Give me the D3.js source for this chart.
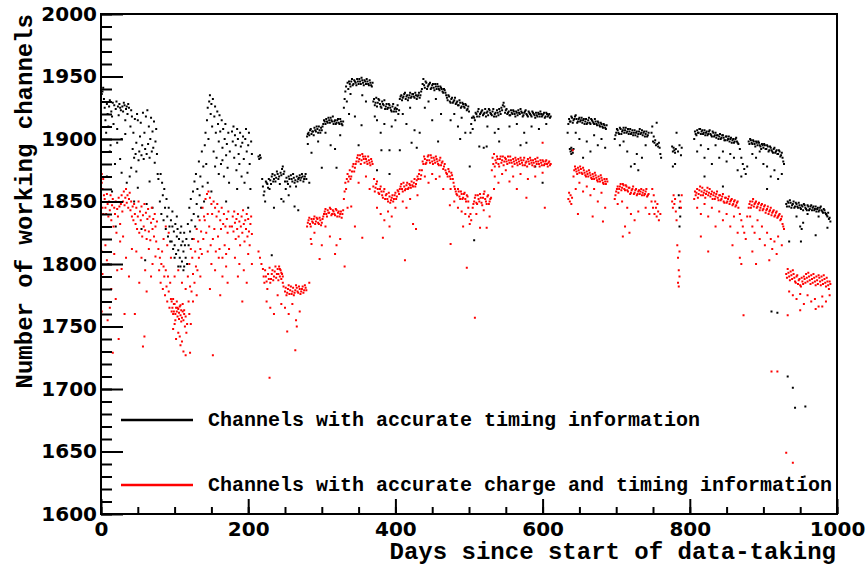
<!DOCTYPE html>
<html>
<head>
<meta charset="utf-8">
<script src="https://cdn.jsdelivr.net/npm/d3@7"></script>
<style>
  body { margin: 0; background: #fff; }
  svg { display: block; }
</style>
</head>
<body>
<svg id="chart"></svg>
<script>
const width = 868;
const height = 566;

// ticks and labels
const xMajor = [0, 200, 400, 600, 800, 1000];
const xMinor = d3.range(0, 1001, 50);
const yMajor = [1600, 1650, 1700, 1750, 1800, 1850, 1900, 1950, 2000];
const yMinor = d3.range(1600, 2001, 10);
const legendLabels = ['Channels with accurate timing information',
    'Channels with accurate charge and timing information'];
const seriesColors = ['#000000', '#ff0000'];

// [day, channels] channels with accurate timing information
const timingPts = [
[0,1940],[1,1936],[2,1938],[3,1941],[4,1932],[5,1925],[6,1915],[7,1905],[8,1928],[9,1920],[10,1910],[11,1926],[12,1931],[13,1895],[14,1922],[15,1918],[16,1929],[17,1912],[18,1927],[19,1880],[20,1924],[21,1930],[22,1908],[23,1926],[24,1919],[25,1928],[26,1925],[27,1923],[28,1900],[29,1926],[30,1922],[31,1929],[32,1927],[33,1915],[34,1924],[35,1926],[36,1920],[37,1928],[38,1925],[39,1870],[40,1910],[41,1923],[42,1918],[43,1892],[44,1905],[45,1885],[46,1916],[47,1888],[48,1897],[49,1920],[50,1915],[51,1883],[52,1890],[53,1902],[54,1913],[55,1887],[56,1895],[57,1921],[58,1884],[59,1905],[60,1892],[61,1918],[62,1888],[63,1923],[64,1896],[65,1910],[66,1885],[67,1900],[68,1917],[69,1890],[70,1906],[71,1893],[72,1914],[73,1881],[74,1898],[75,1908],[76,1888],[77,1872],
[8,1870],[15,1858],[28,1873],[35,1865],[50,1861],[62,1848],[66,1866],[45,1850],[60,1803],[55,1828],[70,1845],[12,1890],[22,1897],[33,1904],[41,1877],[20,1830],[26,1884],[48,1874],
[78,1868],[80,1850],[81,1872],[82,1840],[83,1865],[84,1855],[85,1835],[86,1860],[87,1845],[88,1828],[89,1852],[90,1838],[91,1822],[92,1845],[93,1830],[94,1818],
[95,1835],[96,1818],[97,1830],[98,1812],[99,1826],[100,1815],[101,1832],[102,1808],[103,1822],[104,1828],[105,1811],[106,1820],[107,1805],[108,1825],[109,1815],[110,1802],[111,1818],[112,1810],[113,1798],[114,1815],[115,1805],[116,1820],
[97,1842],[103,1838],[109,1830],[113,1825],[105,1798],[117,1800],[100,1805],[108,1798],[112,1795],
[118,1832],[119,1815],[120,1845],[121,1826],[122,1852],[123,1835],[124,1820],[125,1858],[126,1840],[127,1866],[128,1830],[129,1872],[130,1848],[131,1860],[132,1838],[133,1882],[134,1855],[135,1870],[136,1845],[137,1890],[138,1862],[139,1878],[140,1850],
[141,1895],[142,1905],[143,1880],[144,1915],[145,1925],[146,1900],[147,1930],[148,1935],[149,1920],[150,1928],[151,1910],[152,1932],[153,1890],[154,1918],[155,1926],[156,1905],[157,1885],[158,1922],[159,1912],[160,1898],[161,1919],[162,1906],[163,1880],[164,1915],[165,1893],[166,1908],[167,1870],[168,1900],[169,1912],[170,1887],[171,1896],[172,1877],[173,1905],[174,1865],[175,1890],
[178,1906],[179,1898],[180,1910],[181,1885],[182,1903],[183,1895],[184,1875],[185,1908],[186,1900],[187,1888],[188,1880],[189,1905],[190,1894],[191,1870],[192,1897],[193,1902],[194,1884],[195,1865],[196,1900],[197,1908],[198,1890],[199,1873],[200,1895],[201,1905],[202,1880],[203,1860],[204,1898],[205,1888],
[145,1865],[150,1858],[160,1872],[170,1850],[185,1860],[200,1845],[155,1878],[165,1883],
[214,1886],[215,1884],[216,1887],[217,1885],[219,1868],[220,1862],[221,1855],[222,1858],[223,1850],[224,1866],[226,1864],[228,1868],[229,1860],[230,1867],[232,1870],[234,1866],[236,1871],[238,1869],[240,1872],[242,1870],[243,1864],[244,1873],[246,1876],[247,1878],[248,1872],[250,1866],[251,1860],[252,1869],[254,1864],[256,1868],[257,1862],[258,1871],[260,1866],[262,1869],[264,1867],[265,1862],[266,1870],[268,1868],[270,1871],[272,1869],[274,1870],[276,1868],[278,1872],
[245,1852],[248,1850],[263,1846],[235,1845],[255,1855],[268,1843],[232,1807],
[280,1902],[282,1905],[284,1907],[286,1904],[288,1906],[290,1909],[292,1906],[294,1908],[296,1910],[298,1905],[300,1907],[302,1912],[304,1914],[306,1916],[308,1913],[310,1915],[312,1917],[314,1914],[316,1912],[318,1915],[320,1913],[322,1916],[324,1912],[326,1914],[328,1911],
[281,1896],[286,1889],[295,1898],[305,1905],[312,1895],[318,1892],[325,1903],[300,1877],[320,1877],[283,1865],
[330,1925],[331,1932],[332,1938],[333,1942],[334,1930],[335,1945],[336,1940],[338,1944],[340,1946],[342,1943],[344,1947],[346,1945],[348,1948],[350,1944],[352,1946],[354,1949],[356,1945],[358,1947],[360,1944],[362,1946],[364,1943],[366,1945],[368,1942],
[337,1920],[345,1918],[355,1935],[339,1936],[360,1930],[354,1911],[350,1895],
[370,1930],[372,1927],[374,1933],[376,1929],[378,1931],[380,1926],[382,1930],[384,1927],[386,1924],[388,1928],[390,1925],[392,1927],[394,1923],[396,1926],[398,1922],[400,1925],[402,1924],[404,1920],
[375,1915],[380,1905],[385,1912],[381,1891],[392,1891],[395,1910],[372,1918],[400,1915],[406,1891],[375,1875],[392,1872],
[406,1932],[408,1935],[410,1933],[412,1936],[414,1932],[416,1935],[418,1933],[420,1937],[422,1934],[424,1936],[426,1933],[428,1935],[430,1934],[432,1937],[434,1935],
[410,1920],[415,1912],[420,1925],[422,1897],[426,1907],[429,1893],[433,1905],[436,1940],
[437,1944],[438,1948],[440,1941],[442,1945],[444,1942],[446,1944],[448,1940],[450,1943],[452,1941],[454,1944],[456,1940],[458,1942],[460,1939],[462,1941],[464,1938],[466,1940],[468,1937],
[440,1925],[445,1930],[455,1932],[462,1920],[450,1915],[458,1898],
[470,1933],[472,1935],[474,1930],[476,1932],[478,1929],[480,1931],[482,1928],[484,1930],[486,1927],[488,1929],[490,1926],[492,1928],[494,1925],[496,1927],[498,1924],[500,1922],
[475,1915],[480,1920],[485,1910],[490,1917],[495,1905],[488,1900],
[501,1878],[502,1905],[503,1912],[504,1917],[505,1908],[506,1918],[507,1819],[508,1915],[510,1920],[512,1922],[514,1918],[516,1921],[518,1923],[520,1920],[522,1924],[524,1921],[526,1919],[528,1923],[530,1920],[532,1922],[534,1918],[536,1921],[538,1923],[540,1919],[542,1922],[544,1925],[546,1927],[548,1926],
[514,1894],[520,1893],[524,1894],[541,1898],[525,1910],[535,1905],[540,1908],
[550,1923],[552,1920],[554,1922],[556,1919],[558,1921],[560,1923],[562,1920],[564,1922],[566,1919],[568,1921],[570,1924],[572,1921],[574,1919],[576,1922],[578,1920],[580,1918],[582,1921],[584,1919],[586,1922],[588,1920],[590,1917],[592,1919],[594,1921],[596,1918],[598,1920],[600,1919],[602,1921],[604,1918],[606,1920],[608,1919],[610,1917],
[555,1910],[565,1912],[575,1905],[578,1897],[585,1910],[595,1908],[605,1912],[570,1895],[590,1878],[600,1865],
[634,1905],[635,1912],[636,1916],[638,1914],[640,1917],[642,1915],[644,1918],[646,1916],[648,1914],[650,1917],[652,1915],[654,1913],[656,1916],[658,1914],[660,1912],[662,1915],[664,1913],[666,1916],[668,1914],[670,1912],[672,1914],[674,1911],[676,1913],[678,1910],[680,1912],[682,1909],[684,1911],[686,1908],
[637,1892],[638,1890],[639,1893],[640,1891],[641,1889],[642,1892],[639,1888],
[645,1905],[650,1900],[660,1898],[670,1903],[675,1895],[680,1900],[655,1885],[685,1893],[665,1890],
[698,1900],[700,1905],[702,1907],[704,1904],[706,1908],[708,1906],[710,1909],[712,1907],[714,1905],[716,1908],[718,1906],[720,1904],[722,1907],[724,1905],[726,1903],[728,1906],[730,1904],[732,1908],[734,1905],[736,1903],[738,1906],[740,1904],[742,1902],[744,1905],
[705,1895],[715,1890],[725,1880],[730,1875],[735,1885],[720,1878],[740,1895],[710,1898],[728,1888],
[748,1905],[749,1910],[750,1898],[751,1902],[752,1897],[753,1899],[754,1895],[755,1913],[756,1896],[757,1894],[758,1897],[759,1893],[760,1888],[761,1885],
[776,1894],[777,1890],[778,1893],[779,1891],[780,1889],[781,1892],[782,1905],[784,1890],[786,1895],[788,1887],[789,1893],[780,1880],[777,1878],
[785,1855],[786,1845],[787,1838],[786,1830],
[806,1900],[807,1906],[808,1904],[810,1907],[812,1905],[814,1908],[816,1906],[818,1904],[820,1907],[822,1905],[824,1903],[826,1906],[828,1904],[830,1902],[832,1905],[834,1903],[836,1901],[838,1903],[840,1902],[842,1900],[844,1903],[846,1901],[848,1899],[850,1902],[852,1900],[854,1898],[856,1901],[858,1899],[860,1897],[862,1900],[864,1898],[866,1896],[868,1892],[870,1885],[872,1880],[874,1876],[876,1872],[878,1878],
[810,1890],[815,1895],[820,1885],[825,1892],[830,1880],[835,1895],[840,1885],[845,1890],[850,1882],[855,1888],[860,1885],[865,1875],[870,1870],[820,1870],[845,1862],
[880,1898],[882,1900],[884,1897],[886,1899],[888,1896],[890,1898],[892,1895],[894,1897],[896,1894],[898,1896],[900,1893],[902,1895],[904,1892],[906,1894],[908,1891],[910,1893],[912,1890],[914,1892],[916,1889],[918,1891],[920,1888],[922,1890],[924,1887],[926,1885],[928,1880],
[890,1885],[900,1880],[905,1878],[910,1870],[915,1875],[920,1868],[925,1872],[895,1890],[885,1888],[905,1860],
[931,1848],[933,1850],[935,1846],[937,1849],[939,1847],[941,1850],[943,1846],[945,1848],[947,1845],[949,1847],[951,1844],[953,1846],[955,1848],[957,1845],[959,1843],[961,1846],[963,1844],[965,1847],[967,1845],[969,1843],[971,1846],[973,1844],[975,1842],[977,1845],[979,1843],[981,1841],[983,1843],[985,1840],[987,1838],[989,1836],[991,1834],
[935,1818],[950,1830],[952,1828],[954,1833],[951,1818],[971,1823],[987,1829],[945,1838],[960,1840],[975,1838],
[911,1762],[919,1761],[933,1710],[940,1701],[943,1685],[957,1686],[935,1629],[956,1630]
];

// extra readings inside the dense timing bands (odd days)
const timingFill = [
[225,1865],[227,1861],[231,1864],[233,1872],[235,1868],[237,1866],[239,1874],[241,1868],[245,1871],[249,1874],[253,1866],[255,1870],[259,1868],[261,1872],[263,1865],[267,1866],[269,1869],[271,1867],[273,1872],[275,1866],[277,1870],[279,1868],
[281,1904],[283,1903],[285,1908],[287,1906],[289,1903],[291,1907],[293,1910],[295,1905],[297,1907],[299,1909],[301,1910],[303,1915],[305,1912],[307,1914],[309,1917],[311,1913],[313,1915],[315,1918],[317,1914],[319,1912],[321,1915],[323,1913],[325,1916],[327,1912],[329,1914],
[337,1946],[339,1942],[341,1948],[343,1944],[345,1946],[347,1943],[349,1946],[351,1948],[353,1944],[355,1947],[357,1943],[359,1946],[361,1948],[363,1944],[365,1947],[367,1943],[369,1945],
[371,1932],[373,1929],[375,1926],[377,1932],[379,1928],[381,1925],[383,1928],[385,1931],[387,1926],[389,1924],[391,1928],[393,1925],[395,1922],[397,1928],[399,1924],[401,1922],[403,1927],[405,1923],
[407,1934],[409,1931],[411,1934],[413,1937],[415,1934],[417,1931],[419,1935],[421,1933],[423,1936],[425,1934],[427,1937],[429,1932],[431,1935],[433,1933],[435,1938],
[439,1943],[441,1946],[443,1940],[445,1943],[447,1945],[449,1941],[451,1944],[453,1939],[455,1942],[457,1944],[459,1940],[461,1942],[463,1940],[465,1937],[467,1939],[469,1935],
[471,1931],[473,1934],[475,1929],[477,1933],[479,1930],[481,1933],[483,1929],[485,1927],[487,1931],[489,1925],[491,1929],[493,1926],[495,1928],[497,1923],[499,1926],
[507,1917],[509,1921],[511,1918],[513,1924],[515,1920],[517,1922],[519,1919],[521,1921],[523,1918],[525,1922],[527,1924],[529,1921],[531,1919],[533,1924],[535,1920],[537,1918],[539,1921],[541,1924],[543,1920],[545,1923],[547,1929],[549,1921],[551,1924],[553,1921],[555,1919],[557,1923],[559,1920],[561,1922],[563,1918],[565,1921],[567,1923],[569,1920],[571,1922],[573,1918],[575,1921],[577,1923],[579,1919],[581,1922],[583,1920],[585,1918],[587,1921],[589,1919],[591,1921],[593,1918],[595,1920],[597,1922],[599,1918],[601,1920],[603,1917],[605,1921],[607,1918],[609,1920],[611,1918],
[637,1914],[639,1918],[641,1913],[643,1916],[645,1919],[647,1913],[649,1916],[651,1914],[653,1917],[655,1915],[657,1912],[659,1916],[661,1913],[663,1917],[665,1912],[667,1915],[669,1913],[671,1916],[673,1912],[675,1914],[677,1911],[679,1913],[681,1910],[683,1912],[685,1909],[687,1911],
[699,1903],[701,1908],[703,1905],[705,1909],[707,1904],[709,1907],[711,1905],[713,1909],[715,1906],[717,1904],[719,1908],[721,1905],[723,1903],[725,1907],[727,1905],[729,1902],[731,1906],[733,1904],[735,1907],[737,1905],[739,1902],[741,1906],[743,1903],
[809,1903],[811,1905],[813,1908],[815,1904],[817,1907],[819,1905],[821,1903],[823,1906],[825,1904],[827,1907],[829,1903],[831,1906],[833,1902],[835,1905],[837,1903],[839,1900],[841,1904],[843,1901],[845,1903],[847,1899],[849,1902],[851,1899],[853,1902],[855,1900],[857,1897],[859,1900],[861,1898],[863,1901],[865,1897],
[881,1896],[883,1899],[885,1896],[887,1898],[889,1894],[891,1897],[893,1898],[895,1895],[897,1892],[899,1895],[901,1896],[903,1892],[905,1895],[907,1890],[909,1894],[911,1891],[913,1889],[915,1893],[917,1890],[919,1888],[921,1891],[923,1886],[925,1889],[927,1882],
[932,1846],[934,1849],[936,1851],[938,1845],[940,1848],[942,1845],[944,1849],[946,1846],[948,1849],[950,1845],[952,1847],[954,1843],[956,1847],[958,1844],[960,1847],[962,1843],[964,1846],[966,1843],[968,1846],[970,1844],[972,1842],[974,1845],[976,1843],[978,1846],[980,1842],[982,1844],[984,1841],[986,1839],[988,1841],[990,1837]
];

// [day, channels] channels with accurate charge and timing information
const chargePts = [
[0,1870],[1,1865],[2,1860],[3,1868],[4,1855],[1,1872],[2,1845],[3,1840],[0,1830],[1,1810],[2,1792],[0,1780],[1,1762],
[5,1852],[6,1845],[7,1840],[8,1856],[9,1848],[10,1838],[11,1850],[12,1843],[13,1855],[14,1835],[15,1847],[16,1852],[17,1830],[18,1845],[19,1840],[20,1850],[21,1825],[22,1844],[23,1838],[24,1853],[25,1846],[26,1832],[27,1848],[28,1855],[29,1842],[30,1850],[31,1858],[32,1847],[33,1853],[34,1860],[35,1849],[36,1855],[37,1845],[38,1852],[39,1857],[40,1843],[41,1850],[42,1838],[43,1846],[44,1835],
[6,1815],[10,1800],[14,1780],[18,1808],[22,1795],[26,1818],[30,1822],[34,1805],[38,1790],[42,1812],[12,1765],[20,1772],[16,1729],[24,1740],[9,1755],[32,1760],[8,1803],[28,1796],
[45,1848],[46,1840],[47,1832],[48,1845],[49,1828],[50,1838],[51,1850],[52,1825],[53,1842],[54,1835],[55,1846],[56,1822],[57,1839],[58,1830],[59,1848],[60,1827],[61,1841],[62,1820],[63,1836],[64,1844],[65,1826],[66,1838],[67,1819],[68,1833],[69,1845],[70,1828],[71,1836],[72,1822],[73,1840],[74,1830],[75,1818],[76,1834],
[48,1810],[55,1805],[60,1795],[65,1812],[70,1800],[52,1785],[62,1778],[57,1734],[68,1790],[74,1806],[46,1760],[59,1742],
[78,1812],[79,1795],[80,1805],[81,1785],[82,1800],[83,1810],[84,1780],[85,1798],[86,1790],[87,1775],[88,1795],[89,1782],[90,1770],[91,1790],[92,1778],[93,1765],[94,1785],[95,1772],[96,1770],[97,1765],[98,1772],[99,1762],[100,1768],[101,1760],[102,1765],[103,1762],[104,1758],[105,1764],[106,1761],[107,1766],[108,1759],[109,1763],[110,1757],[111,1762],[112,1755],[113,1760],[114,1750],[115,1758],[116,1745],[117,1752],
[99,1768],[101,1755],[103,1770],[104,1765],[106,1756],[108,1767],[109,1754],[111,1768],[113,1763],[96,1762],[98,1760],
[98,1748],[102,1740],[105,1745],[108,1735],[110,1738],[112,1730],[115,1727],[100,1752],[107,1742],
[85,1820],[90,1815],[95,1805],[100,1790],[105,1795],[110,1785],[115,1780],[88,1830],[92,1825],
[118,1790],[119,1770],[120,1800],[121,1782],[122,1812],[123,1778],[124,1805],[125,1792],[126,1820],[127,1785],[128,1810],[129,1798],[130,1828],[131,1795],[132,1818],[133,1805],[134,1835],[135,1812],[136,1826],[137,1808],[138,1845],[139,1820],[140,1838],
[120,1760],[125,1770],[130,1775],[135,1790],[122,1752],[121,1729],
[141,1835],[142,1852],[143,1825],[144,1856],[145,1840],[146,1858],[147,1830],[148,1853],[149,1815],[150,1848],[151,1840],[152,1820],[153,1850],[154,1828],[155,1845],[156,1810],[157,1838],[158,1848],[159,1822],[160,1842],[161,1812],[162,1835],[163,1828],[164,1845],[165,1805],[166,1832],[167,1840],[168,1815],[169,1830],[170,1808],[171,1836],[172,1825],[173,1842],[174,1812],[175,1830],
[145,1810],[150,1800],[155,1795],[160,1805],[165,1790],[170,1798],[152,1727],[148,1780],[162,1775],[172,1785],
[178,1830],[179,1838],[180,1826],[181,1842],[182,1833],[183,1820],[184,1836],[185,1828],[186,1840],[187,1822],[188,1834],[189,1815],[190,1830],[191,1838],[192,1825],[193,1843],[194,1832],[195,1818],[196,1835],[197,1828],[198,1840],[199,1822],[200,1836],[201,1826],[202,1815],[203,1832],[204,1838],[205,1824],
[182,1805],[188,1800],[194,1795],[200,1808],[186,1790],[198,1785],[192,1770],[205,1800],
[214,1810],[216,1805],[218,1800],[220,1796],[222,1785],[224,1790],[226,1780],[228,1788],[230,1785],[232,1792],[234,1787],[236,1794],[238,1789],[240,1796],[241,1792],[242,1798],[243,1790],[244,1795],[245,1788],[246,1792],[247,1785],[248,1782],
[250,1778],[252,1775],[254,1780],[256,1776],[258,1782],[260,1778],[262,1775],[264,1779],[266,1781],[268,1777],[270,1780],[272,1778],[274,1782],[276,1779],[278,1781],
[225,1770],[230,1765],[235,1760],[240,1775],[245,1768],[250,1765],[255,1760],[260,1768],[265,1755],[270,1762],[229,1709],[264,1731],[253,1746],[266,1750],
[280,1830],[282,1835],[284,1832],[286,1836],[288,1833],[290,1838],[292,1834],[294,1836],[296,1832],[298,1835],[300,1833],[302,1838],[304,1842],[306,1840],[308,1843],[310,1841],[312,1844],[314,1840],[316,1842],[318,1839],[320,1843],[322,1841],[324,1838],[326,1842],[328,1840],
[285,1820],[286,1816],[290,1825],[297,1804],[300,1815],[305,1830],[311,1822],[318,1808],[320,1815],[325,1820],[331,1798],[283,1785],
[330,1852],[331,1858],[332,1865],[333,1860],[334,1868],[335,1872],[336,1866],[338,1875],[340,1870],[342,1878],[344,1874],[346,1880],[348,1885],[350,1882],[352,1887],[354,1883],[356,1886],[358,1881],[360,1884],[362,1880],[364,1883],[366,1879],[368,1882],
[335,1845],[340,1846],[350,1865],[360,1870],[365,1860],[345,1830],[355,1821],
[370,1862],[371,1868],[372,1858],[374,1864],[376,1860],[378,1856],[380,1862],[382,1855],[384,1858],[386,1852],[388,1856],[390,1850],[392,1854],[394,1851],[396,1855],[398,1852],[400,1857],[402,1854],[404,1858],
[375,1845],[380,1840],[385,1835],[390,1842],[395,1838],[400,1845],[383,1821],[392,1830],
[406,1860],[408,1864],[410,1858],[412,1862],[414,1860],[416,1865],[418,1861],[420,1863],[422,1866],[424,1862],[426,1868],[428,1864],[430,1870],[432,1872],[434,1868],
[410,1850],[415,1845],[420,1852],[424,1832],[428,1828],[413,1803],[430,1855],
[436,1875],[438,1880],[440,1884],[442,1881],[444,1886],[446,1883],[448,1887],[450,1882],[452,1885],[454,1881],[456,1884],[458,1880],[460,1883],[462,1879],[464,1882],[466,1878],
[440,1870],[445,1865],[450,1872],[455,1868],[460,1870],[465,1860],[474,1847],
[468,1875],[470,1872],[472,1876],[474,1870],[476,1873],[478,1868],[480,1862],[482,1858],[484,1855],[486,1858],[488,1852],[490,1856],[492,1853],[494,1857],[496,1850],[498,1854],[499,1845],[500,1838],[501,1832],[502,1840],[503,1835],
[475,1860],[480,1850],[485,1845],[490,1842],[495,1840],[497,1797],[508,1757],[475,1816],[492,1830],
[505,1845],[507,1850],[509,1855],[511,1848],[513,1852],[515,1856],[517,1849],[519,1853],[521,1858],[523,1850],[525,1854],[527,1848],[529,1852],
[510,1840],[515,1829],[520,1843],[524,1829],[528,1838],
[531,1875],[532,1885],[533,1880],[534,1888],[535,1878],[536,1883],[538,1886],[540,1880],[542,1884],[544,1881],[546,1886],[548,1882],[550,1884],[552,1880],[554,1883],[556,1886],[558,1881],[560,1884],[562,1880],[564,1883],[566,1879],[568,1882],[570,1885],[572,1881],[574,1883],[576,1879],[578,1882],[580,1884],[582,1880],[584,1883],[586,1879],[588,1881],[590,1884],[592,1880],[594,1882],[596,1878],[598,1881],[600,1883],[602,1879],[604,1882],[606,1880],[608,1881],[610,1879],
[535,1870],[540,1865],[545,1872],[550,1875],[560,1870],[570,1872],[580,1868],[590,1870],[600,1873],[565,1860],[578,1853],[603,1845],[555,1866],[534,1860],[600,1897],
[635,1852],[636,1857],[637,1850],[638,1855],[639,1848],[640,1853],[641,1891],
[642,1870],[643,1875],[644,1878],[646,1874],[648,1877],[650,1873],[652,1876],[654,1872],[656,1875],[658,1871],[660,1874],[662,1870],[664,1873],[666,1869],[668,1872],[670,1868],[672,1871],[674,1867],[676,1870],[678,1866],[680,1869],[682,1865],[684,1868],[686,1864],[688,1866],
[645,1860],[650,1865],[655,1858],[660,1862],[665,1855],[670,1860],[675,1850],[680,1857],[685,1845],[648,1840],[668,1838],[682,1834],
[698,1852],[700,1858],[702,1862],[704,1860],[706,1864],[708,1861],[710,1863],[712,1859],[714,1862],[716,1858],[718,1861],[720,1857],[722,1860],[724,1856],[726,1859],[728,1855],[730,1858],
[702,1848],[708,1850],[715,1845],[720,1840],[725,1835],[730,1842],[709,1822],[712,1830],[718,1825],
[732,1856],[734,1860],[736,1857],[738,1855],[740,1858],[742,1854],[744,1856],
[748,1850],[749,1860],[750,1845],[751,1855],[752,1840],[753,1850],[754,1845],[755,1838],[756,1848],[757,1842],[758,1835],[760,1840],[740,1845],[745,1840],
[776,1850],[777,1845],[778,1855],[779,1848],[780,1852],[781,1842],[782,1835],[783,1815],[784,1805],[785,1795],[786,1790],[784,1785],[785,1782],[786,1810],[787,1850],[788,1845],[789,1855],
[806,1852],[807,1858],[808,1855],[810,1860],[812,1856],[814,1862],[816,1858],[818,1855],[820,1859],[822,1856],[824,1861],[826,1857],[828,1854],[830,1858],[832,1855],[834,1852],[836,1856],[838,1853],[840,1855],[842,1851],[844,1854],[846,1850],[848,1853],[850,1849],[852,1852],[854,1848],[856,1851],[858,1847],[860,1850],[862,1846],[864,1849],[866,1845],[868,1840],[870,1835],[872,1830],[874,1825],[876,1820],[878,1838],
[810,1845],[815,1840],[820,1848],[825,1838],[830,1845],[835,1830],[840,1842],[845,1835],[850,1840],[855,1830],[860,1838],[865,1825],[825,1810],[815,1822],[858,1815],[868,1805],[870,1800],[873,1759],
[880,1845],[882,1850],[884,1847],[886,1852],[888,1848],[890,1850],[892,1846],[894,1849],[896,1845],[898,1848],[900,1844],[902,1847],[904,1843],[906,1846],[908,1842],[910,1845],[912,1841],[914,1843],[916,1839],[918,1842],[920,1838],[922,1840],[924,1836],[926,1832],[928,1828],
[882,1838],[885,1830],[888,1825],[892,1835],[895,1820],[898,1830],[902,1815],[905,1825],[910,1820],[912,1812],[915,1818],[918,1808],[920,1822],[925,1815],[885,1810],[890,1800],[908,1803],
[911,1714],[919,1714],[931,1649],[940,1641],
[931,1792],[933,1796],[935,1790],[937,1794],[939,1788],[941,1792],[943,1786],[945,1790],[947,1784],[949,1788],[951,1782],[953,1786],[955,1790],[957,1785],[959,1789],[961,1793],[963,1787],[965,1791],[967,1785],[969,1789],[971,1783],[973,1787],[975,1791],[977,1786],[979,1790],[981,1784],[983,1788],[985,1782],[987,1786],[989,1780],[991,1784],
[935,1778],[940,1775],[945,1772],[950,1776],[955,1768],[960,1775],[965,1770],[970,1772],[975,1766],[980,1774],[985,1770],[990,1775],[933,1759],[950,1763],[971,1764],[980,1766]
];

// extra readings inside the dense charge bands (odd days)
const chargeFill = [
[221,1790],[223,1795],[225,1786],[227,1792],[229,1797],[231,1788],[233,1795],[235,1790],[237,1798],[239,1792],[241,1787],[243,1796],[245,1793],[247,1790],
[251,1781],[253,1777],[255,1783],[257,1779],[259,1776],[261,1781],[263,1777],[265,1783],[267,1778],[269,1782],[271,1776],[273,1780],[275,1777],[277,1783],[279,1779],
[281,1833],[283,1837],[285,1830],[287,1834],[289,1836],[291,1832],[293,1837],[295,1833],[297,1837],[299,1831],[301,1836],[303,1840],[305,1844],[307,1838],[309,1841],[311,1845],[313,1839],[315,1843],[317,1840],[319,1844],[321,1838],[323,1842],[325,1840],[327,1837],[329,1843],
[337,1870],[339,1868],[341,1874],[343,1880],[345,1877],[347,1882],[349,1887],[351,1884],[353,1880],[355,1888],[357,1884],[359,1886],[361,1882],[363,1886],[365,1881],[367,1884],[369,1880],
[373,1861],[375,1866],[377,1857],[379,1860],[381,1858],[383,1853],[385,1860],[387,1855],[389,1852],[391,1857],[393,1849],[395,1853],[397,1850],[399,1855],[401,1852],[403,1859],[405,1856],
[407,1862],[409,1860],[411,1865],[413,1859],[415,1863],[417,1860],[419,1864],[421,1861],[423,1863],[425,1865],[427,1862],[429,1867],[431,1868],[433,1875],[435,1871],
[437,1882],[439,1886],[441,1880],[443,1883],[445,1887],[447,1881],[449,1885],[451,1880],[453,1883],[455,1886],[457,1882],[459,1879],[461,1885],[463,1881],[465,1876],[467,1880],
[469,1873],[471,1870],[473,1874],[475,1868],[477,1871],[479,1865],[481,1860],[483,1856],[485,1860],[487,1854],[489,1858],[491,1852],[493,1856],[495,1852],[497,1855],[499,1850],
[506,1848],[508,1853],[510,1849],[512,1855],[514,1850],[516,1853],[518,1847],[520,1856],[522,1852],[524,1848],[526,1855],[528,1850],[530,1853],
[537,1881],[539,1884],[541,1878],[543,1886],[545,1883],[547,1879],[549,1885],[551,1882],[553,1886],[555,1881],[557,1883],[559,1878],[561,1882],[563,1885],[565,1881],[567,1884],[569,1880],[571,1883],[573,1879],[575,1885],[577,1881],[579,1878],[581,1882],[583,1885],[585,1881],[587,1883],[589,1878],[591,1882],[593,1885],[595,1880],[597,1883],[599,1879],[601,1882],[603,1880],[605,1883],[607,1878],[609,1882],[611,1880],
[645,1876],[647,1872],[649,1875],[651,1878],[653,1873],[655,1877],[657,1873],[659,1870],[661,1872],[663,1875],[665,1871],[667,1868],[669,1870],[671,1873],[673,1869],[675,1866],[677,1868],[679,1871],[681,1867],[683,1864],[685,1866],[687,1868],
[699,1855],[701,1860],[703,1857],[705,1862],[707,1859],[709,1864],[711,1860],[713,1863],[715,1859],[717,1861],[719,1856],[721,1859],[723,1862],[725,1857],[727,1860],[729,1856],[731,1859],[733,1858],[735,1855],[737,1859],[739,1856],[741,1860],[743,1855],
[809,1857],[811,1853],[813,1859],[815,1855],[817,1861],[819,1857],[821,1853],[823,1858],[825,1855],[827,1860],[829,1856],[831,1852],[833,1857],[835,1854],[837,1858],[839,1851],[841,1855],[843,1852],[845,1856],[847,1849],[849,1853],[851,1850],[853,1854],[855,1850],[857,1852],[859,1848],[861,1851],[863,1847],[865,1850],
[881,1848],[883,1845],[885,1850],[887,1846],[889,1849],[891,1845],[893,1848],[895,1843],[897,1847],[899,1843],[901,1846],[903,1841],[905,1844],[907,1840],[909,1843],[911,1839],[913,1842],[915,1838],[917,1841],[919,1837],[921,1839],[923,1835],[925,1838],[927,1830],
[932,1789],[934,1793],[936,1787],[938,1791],[940,1795],[942,1789],[944,1785],[946,1791],[948,1787],[950,1783],[952,1789],[954,1784],[956,1788],[958,1792],[960,1786],[962,1790],[964,1784],[966,1788],[968,1792],[970,1786],[972,1790],[974,1784],[976,1789],[978,1783],[980,1787],[982,1791],[984,1785],[986,1789],[988,1783],[990,1786]
];

const margin = {left: 101, right: 837, top: 14, bottom: 514};

const svg = d3.select('#chart').attr('width', width).attr('height', height);
svg.append('rect').attr('width', width).attr('height', height).attr('fill', '#fff');

const x = d3.scaleLinear().domain([0, 1000]).range([margin.left, margin.right]);
const y = d3.scaleLinear().domain([1600, 2000]).range([margin.bottom, margin.top]);

// points
const series = [timingPts.concat(timingFill), chargePts.concat(chargeFill)];
series.forEach(function (pts, i) {
    svg.append('g')
        .selectAll('rect')
        .data(pts)
        .join('rect')
        .attr('x', d => x(d[0]) - 1)
        .attr('y', d => y(d[1]) - 1)
        .attr('width', 2)
        .attr('height', 2)
        .attr('fill', seriesColors[i]);
});

// frame
svg.append('rect')
    .attr('x', margin.left).attr('y', margin.top)
    .attr('width', margin.right - margin.left)
    .attr('height', margin.bottom - margin.top)
    .attr('fill', 'none').attr('stroke', '#000').attr('stroke-width', 2);

// y axis
const yAxisMinor = d3.axisLeft(y).tickValues(yMinor).tickSize(-11).tickFormat('');
const yAxisMajor = d3.axisLeft(y).tickValues(yMajor).tickSize(-22).tickPadding(4).tickFormat(d3.format('d'));
[yAxisMinor, yAxisMajor].forEach(function (ax) {
    const g = svg.append('g').attr('transform', `translate(${margin.left},0)`).call(ax);
    g.select('.domain').remove();
    g.selectAll('.tick line').attr('stroke-width', 2);
    g.selectAll('text')
        .attr('font-family', 'DejaVu Sans')
        .attr('font-weight', 'bold')
        .attr('font-size', 20)
        .attr('fill', '#000');
});

// x axis
const xAxisMinor = d3.axisBottom(x).tickValues(xMinor).tickSize(-7).tickFormat('');
const xAxisMajor = d3.axisBottom(x).tickValues(xMajor).tickSize(-15).tickPadding(8).tickFormat(d3.format('d'));
[xAxisMinor, xAxisMajor].forEach(function (ax) {
    const g = svg.append('g').attr('transform', `translate(0,${margin.bottom})`).call(ax);
    g.select('.domain').remove();
    g.selectAll('.tick line').attr('stroke-width', 2);
    g.selectAll('text')
        .attr('font-family', 'DejaVu Sans')
        .attr('font-weight', 'bold')
        .attr('font-size', 20)
        .attr('fill', '#000');
});

// axis titles
svg.append('text')
    .attr('x', 836).attr('y', 559)
    .attr('text-anchor', 'end')
    .attr('font-family', 'Liberation Mono')
    .attr('font-weight', 'bold')
    .attr('font-size', 24)
    .text('Days since start of data-taking');

svg.append('text')
    .attr('transform', 'translate(32,14) rotate(-90)')
    .attr('text-anchor', 'end')
    .attr('font-family', 'Liberation Mono')
    .attr('font-weight', 'bold')
    .attr('font-size', 24)
    .text('Number of working channels');

// legend
const legendY = [420, 485];
legendLabels.forEach(function (label, i) {
    svg.append('line')
        .attr('x1', 121).attr('x2', 193)
        .attr('y1', legendY[i]).attr('y2', legendY[i])
        .attr('stroke', seriesColors[i]).attr('stroke-width', 2.5);
    svg.append('text')
        .attr('x', 208).attr('y', legendY[i] + 6)
        .attr('font-family', 'Liberation Mono')
        .attr('font-weight', 'bold')
        .attr('font-size', 20)
        .text(label);
});
</script>
</body>
</html>
